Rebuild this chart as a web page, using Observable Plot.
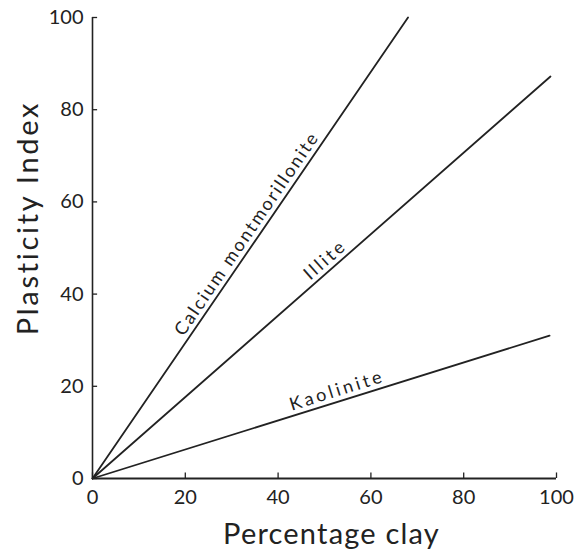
<!DOCTYPE html>
<html>
<head>
<meta charset="utf-8">
<script src="https://cdn.jsdelivr.net/npm/d3@7"></script>
<script src="https://cdn.jsdelivr.net/npm/@observablehq/plot@0.6"></script>
<style>
  html, body { margin: 0; padding: 0; background: #fff; }
  #chart svg { display: block; }
</style>
</head>
<body>
<div id="chart"></div>
<script>
// Clay minerals: straight lines from the origin to an end point
const minerals = ["Calcium montmorillonite", "Illite", "Kaolinite"];
const endClay  = [68, 98.7, 98.5];   // Percentage clay at line end
const endPI    = [100, 87.2, 31];    // Plasticity Index at line end

// Label anchor (data coords, just above each line) and rotation angle
const labelClay  = [34.3, 51.0, 53.1];
const labelPI    = [52.4, 46.5, 17.9];
const labelAngle = [-55.7, -41.3, -17.3];

const xTicks = [0, 20, 40, 60, 80, 100];
const yTicks = [0, 20, 40, 60, 80, 100];
const xTitle = "Percentage clay";
const yTitle = "Plasticity Index";

const lineData = minerals.flatMap((m, i) => [
  {mineral: m, clay: 0, pi: 0},
  {mineral: m, clay: endClay[i], pi: endPI[i]}
]);
const labels = minerals.map((m, i) => ({
  mineral: m, clay: labelClay[i], pi: labelPI[i], angle: labelAngle[i]
}));

const ink = "#222";
const font = "Lato, 'Noto Sans', sans-serif";

const chart = Plot.plot({
  width: 579,
  height: 551,
  marginLeft: 92,
  marginRight: 23,
  marginTop: 17,
  marginBottom: 73,
  style: {fontFamily: font, color: ink, background: "#fff"},
  x: {domain: [0, 100]},
  y: {domain: [0, 100]},
  marks: [
    Plot.axisX({ticks: xTicks, tickSize: 0, tickPadding: 11, fontSize: 20, label: null, fill: ink}),
    Plot.axisY({ticks: yTicks, tickSize: 0, tickPadding: 9, fontSize: 20, label: null, fill: ink}),
    // inward tick marks
    Plot.ruleY(yTicks, {y: d => d, x1: 0, x2: 1.1, stroke: ink, strokeWidth: 1.3}),
    Plot.ruleX(xTicks, {x: d => d, y1: 0, y2: 1.2, stroke: ink, strokeWidth: 1.3}),
    // axis lines
    Plot.ruleX([0], {stroke: ink, strokeWidth: 1.6}),
    Plot.ruleY([0], {stroke: ink, strokeWidth: 2}),
    // mineral lines
    Plot.line(lineData, {x: "clay", y: "pi", z: "mineral", stroke: ink, strokeWidth: 1.8}),
    // line labels
    Plot.text(labels, {x: "clay", y: "pi", text: "mineral", rotate: "angle",
      lineAnchor: "bottom", fontSize: 18, fill: ink}),
    // axis titles
    Plot.text([xTitle], {frameAnchor: "bottom", textAnchor: "middle", lineAnchor: "middle",
      dy: 56, dx: 7, fontSize: 29, fill: ink}),
    Plot.text([yTitle], {frameAnchor: "left", textAnchor: "middle", lineAnchor: "middle",
      dx: -64, dy: -30, rotate: -90, fontSize: 29, fill: ink})
  ]
});

// letter spacing to mimic the wide geometric lettering of the original
const textGroups = d3.select(chart).selectAll('g[aria-label="text"]').nodes();
const labelSpacing = [2.1, 2.8, 3.2];
d3.select(textGroups[0]).selectAll("text").each(function(d, i) {
  this.setAttribute("letter-spacing", labelSpacing[i] + "px");
});
d3.select(textGroups[1]).selectAll("text").attr("letter-spacing", "1.2px");
d3.select(textGroups[2]).selectAll("text").attr("letter-spacing", "2.7px");

document.getElementById("chart").append(chart);
</script>
</body>
</html>
